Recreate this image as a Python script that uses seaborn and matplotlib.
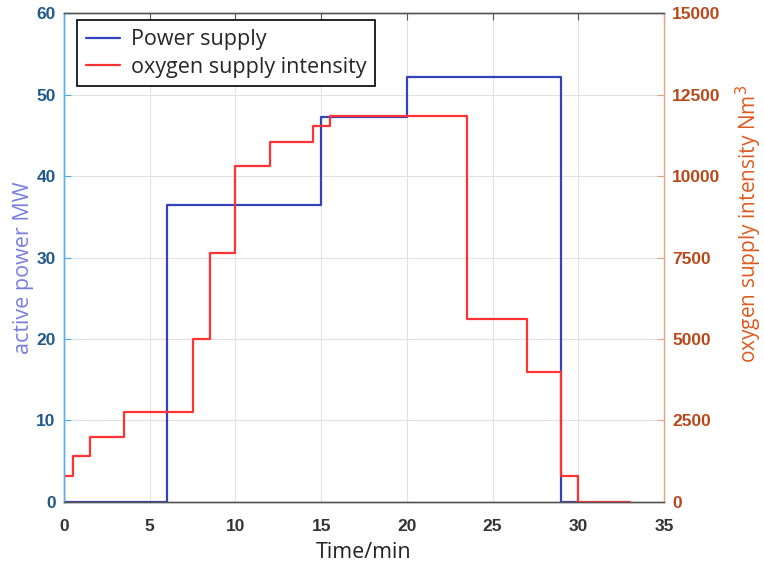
import matplotlib
matplotlib.use("Agg")
import matplotlib.pyplot as plt
import seaborn as sns
import pandas as pd

# Time grid and step values
power_time = [0, 6, 15, 20, 29, 30]
power_mw = [0, 36.5, 47.3, 52.1, 0, 0]

oxygen_time = [0, 0, 0.5, 1.5, 3.5, 7.5, 8.5, 10, 12, 14.5, 15.5, 23.5, 27, 29, 30, 33]
oxygen_nm3 = [0, 800, 1400, 2000, 2750, 5000, 7650, 10300, 11050, 11550, 11850, 5600, 4000, 800, 0, 0]

x_ticks = [0, 5, 10, 15, 20, 25, 30, 35]
left_ticks = [0, 10, 20, 30, 40, 50, 60]
right_ticks = [0, 2500, 5000, 7500, 10000, 12500, 15000]

sns.set_style("white")
plt.rcParams["font.family"] = ["Liberation Sans", "DejaVu Sans"]

power_df = pd.DataFrame({"t": power_time, "p": power_mw})
oxygen_df = pd.DataFrame({"t": oxygen_time, "o": oxygen_nm3})

fig = plt.figure(figsize=(7.64, 5.71), dpi=100)
ax = fig.add_axes([0.0838, 0.121, 0.7853, 0.856])
ax2 = ax.twinx()

blue = "#3344bb"
red = "#ff3333"

sns.lineplot(data=power_df, x="t", y="p", drawstyle="steps-post", estimator=None,
             sort=False, color=blue, lw=1.6, ax=ax, label="Power supply", legend=False)
sns.lineplot(data=oxygen_df, x="t", y="o", drawstyle="steps-post", estimator=None,
             sort=False, color=red, lw=1.6, ax=ax2, label="oxygen supply intensity", legend=False)

ax.set_xlim(0, 35)
ax.set_ylim(0, 60)
ax2.set_ylim(0, 15000)
ax.set_xticks(x_ticks)
ax.set_yticks(left_ticks)
ax2.set_yticks(right_ticks)

ax.grid(True, color="#e2e2e2", lw=0.8)
ax.set_axisbelow(True)

tick_font = dict(fontsize=12.5, fontweight="bold")
ax.set_xticklabels([str(v) for v in x_ticks], color="#333333", **tick_font)
ax.set_yticklabels([str(v) for v in left_ticks], color="#1f5a8a", **tick_font)
ax2.set_yticklabels([str(v) for v in right_ticks], color="#b8481a", **tick_font)

ax.tick_params(axis="x", direction="in", length=5, color="#555555", top=True, pad=12)
ax.tick_params(axis="y", direction="in", length=5, color="#4fa8e0", pad=6)
ax2.tick_params(axis="y", direction="in", length=5, color="#e8a080", pad=6)

for s in ["top", "bottom"]:
    ax2.spines[s].set_color("#555555")
    ax.spines[s].set_color("#555555")
ax.spines["left"].set_color("#5ab0e6")
ax2.spines["left"].set_color("#5ab0e6")
ax2.spines["right"].set_color("#e8a080")
ax.spines["right"].set_visible(False)
for sp in list(ax.spines.values()) + list(ax2.spines.values()):
    sp.set_linewidth(1.0)

label_font = ["Open Sans", "DejaVu Sans"]
ax.set_xlabel("Time/min", fontsize=15.5, color="#222222", family=label_font, labelpad=6)
ax.set_ylabel("active power MW", fontsize=15.5, color="#7a7fe0", family=label_font, labelpad=2)
ax.yaxis.label.set_y(0.48)
ax2.set_ylabel("oxygen supply intensity Nm$^3$", fontsize=15, color="#e05a20",
               family=label_font, labelpad=9)
ax2.yaxis.label.set_y(0.57)

handles = ax.get_lines()[:1] + ax2.get_lines()[:1]
leg = ax2.legend(handles, ["Power supply", "oxygen supply intensity"], loc="upper left",
                 bbox_to_anchor=(0.0217, 0.985), borderaxespad=0, fancybox=False, framealpha=1,
                 edgecolor="black", prop={"family": label_font, "size": 15.5},
                 handlelength=1.6, handletextpad=0.5, borderpad=0.4, labelspacing=0.3)
leg.get_frame().set_linewidth(1.2)

fig.savefig("out.png", dpi=100)
